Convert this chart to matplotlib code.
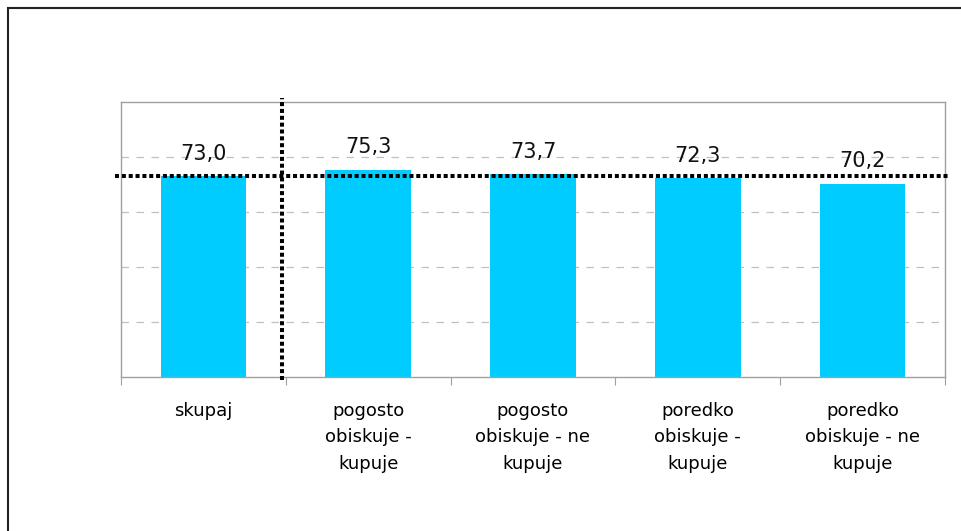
import matplotlib.pyplot as plt
from matplotlib.patches import Rectangle

# Data
categories = ['skupaj', 'pogosto\nobiskuje -\nkupuje', 'pogosto\nobiskuje - ne\nkupuje',
              'poredko\nobiskuje -\nkupuje', 'poredko\nobiskuje - ne\nkupuje']
values = [73.0, 75.3, 73.7, 72.3, 70.2]
average = values[0]

fig = plt.figure(figsize=(9.62, 5.31), dpi=100)
ax = fig.add_axes([0.1258, 0.2900, 0.8565, 0.5179])

# frame around the whole chart (only left and top edges visible)
fig.patches.append(Rectangle((8 / 962, -0.5), 2, 1.5 - 8 / 531, transform=fig.transFigure,
                             fill=False, edgecolor='#222222', linewidth=1.5))

x = range(len(values))
ax.bar(x, values, width=0.52, color='#00CCFF', zorder=2)

for xi, v in zip(x, values):
    ax.annotate(f'{v:.1f}'.replace('.', ','), (xi, v), xytext=(0, 9), textcoords='offset points',
                ha='center', va='bottom', fontsize=15, color='#111111')

ax.set_xlim(-0.5, len(values) - 0.5)
ax.set_ylim(0, 100)

# gridlines
for g in [20, 40, 60, 80]:
    ax.axhline(g, color='#c0c0c0', linestyle=(0, (6, 6)), linewidth=0.9, zorder=1)

# average line and separator
dots = (0, (1, 0.7))
ax.plot([-0.536, 4.53], [average, average], color='black', linewidth=2.9,
        linestyle=dots, dash_capstyle='butt', clip_on=False, zorder=3)
ax.plot([0.478, 0.478], [-1.2, 101.6], color='black', linewidth=2.9,
        linestyle=dots, dash_capstyle='butt', clip_on=False, zorder=3)

for side in ['left', 'top', 'right', 'bottom']:
    ax.spines[side].set_color('#a0a0a0')
    ax.spines[side].set_linewidth(1)

ax.set_yticks([])
ax.set_xticks([i - 0.5 for i in range(len(values) + 1)])
ax.set_xticklabels([])
ax.tick_params(axis='x', which='major', length=6, color='#a0a0a0', direction='out')
ax.set_xticks(list(x), minor=True)
ax.set_xticklabels(categories, minor=True, fontsize=13, linespacing=1.6)
ax.tick_params(axis='x', which='minor', length=0, pad=18)

plt.savefig('out.png', dpi=100)
